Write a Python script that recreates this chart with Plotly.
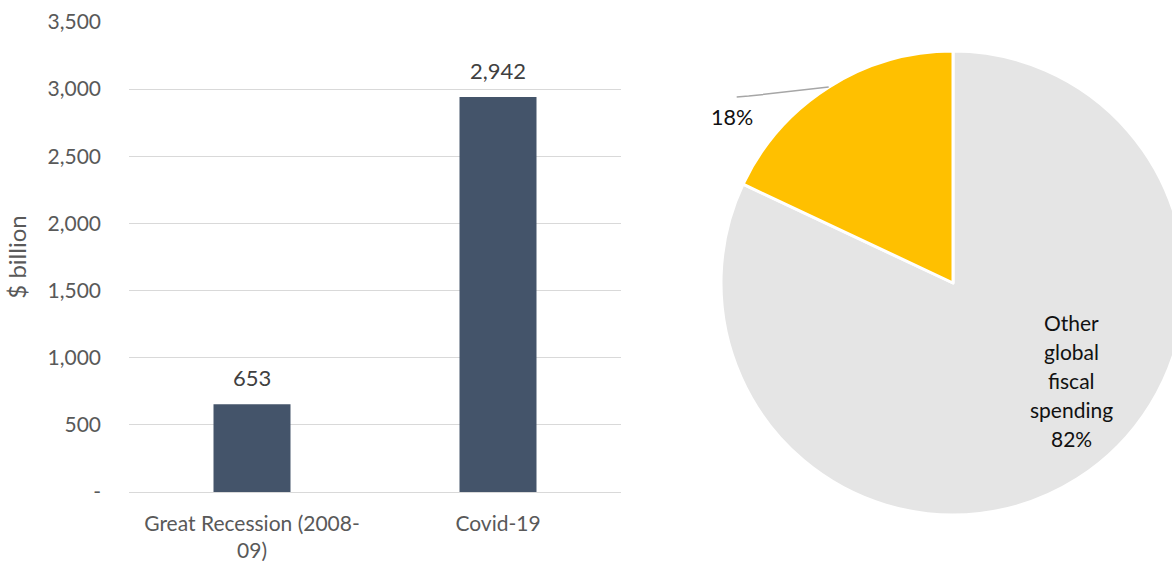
import math
import plotly.graph_objects as go

# ---- data -------------------------------------------------------------
episodes = ["Great Recession (2008-<br>09)", "Covid-19"]
spending_bn = [653, 2942]

y_tickvals = [0, 500, 1000, 1500, 2000, 2500, 3000, 3500]
y_ticktext = ["-", "500", "1,000", "1,500", "2,000", "2,500", "3,000", "3,500"]

# pie slices, drawn counter-clockwise so the last slice ends at 12 o'clock
share_labels = ["Other global fiscal spending", "Fiscal support"]
share_values = [82, 18]
share_colors = ["#E5E5E5", "#FFC000"]

# ---- canvas geometry ---------------------------------------------------
W, H = 1185, 561
FONT = "Lato"
GREY_TXT = "#595959"

fig = go.Figure()

fig.add_trace(go.Bar(
    x=episodes, y=spending_bn,
    marker=dict(color="#44546A", line=dict(width=0)),
    showlegend=False, hoverinfo="x+y",
    xaxis="x", yaxis="y",
))

# value labels above the bars
for cat, v in zip(episodes, spending_bn):
    fig.add_annotation(x=cat, y=v, xref="x", yref="y",
                       text=f"{v:,}", showarrow=False,
                       xanchor="center", yanchor="bottom", yshift=11,
                       font=dict(family=FONT, size=22, color="#404040"))

# pie: domain in paper fractions
pie_x0, pie_x1 = 721 / W, 1185 / W
pie_y0, pie_y1 = (H - 515) / H, (H - 51) / H
fig.add_trace(go.Pie(
    labels=share_labels,
    values=share_values,
    marker=dict(colors=share_colors, line=dict(color="white", width=3)),
    sort=False, direction="counterclockwise", rotation=0,
    textinfo="none", hoverinfo="label+percent",
    showlegend=False, automargin=False,
    domain=dict(x=[pie_x0, pie_x1], y=[pie_y0, pie_y1]),
))

# ---- pie labels, placed from the slice angles ----------------------------
cx = (pie_x0 + pie_x1) / 2 * W
cy = H - (pie_y0 + pie_y1) / 2 * H
R = min((pie_x1 - pie_x0) * W, (pie_y1 - pie_y0) * H) / 2
total = sum(share_values)


def to_paper(px, py):
    return px / W, (H - py) / H


# small slice sits just left of 12 o'clock: its mid angle
mid_small = share_values[1] / total * 360 / 2
rim_x = cx - math.sin(math.radians(mid_small)) * R
rim_y = cy - math.cos(math.radians(mid_small)) * R
elbow_x, elbow_y = rim_x - 80, rim_y + 9
end_x, end_y = rim_x - 92, rim_y + 10
ex0, ey0 = to_paper(rim_x, rim_y)
ex1, ey1 = to_paper(elbow_x, elbow_y)
ex2, ey2 = to_paper(end_x, end_y)
fig.add_shape(type="path", xref="paper", yref="paper",
              path=f"M {ex0},{ey0} L {ex1},{ey1} L {ex2},{ey2}",
              line=dict(color="#A6A6A6", width=1.5))
lx, ly = to_paper(end_x - 5, end_y + 20)
fig.add_annotation(xref="paper", yref="paper", x=lx, y=ly,
                   text=f"{share_values[1]}%", showarrow=False,
                   xanchor="center", yanchor="middle",
                   font=dict(family=FONT, size=21.5, color="#111111"))

# large slice label: stacked words
big_lines = share_labels[0].split(" ") + [f"{share_values[0]}%"]
gx, gy = cx + 118, cy + 97
step = 29
for i, word in enumerate(big_lines):
    py = gy + (i - (len(big_lines) - 1) / 2) * step
    ax_, ay_ = to_paper(gx, py)
    fig.add_annotation(xref="paper", yref="paper", x=ax_, y=ay_,
                       text=word, showarrow=False,
                       xanchor="center", yanchor="middle",
                       font=dict(family=FONT, size=21, color="#111111"))

# ---- layout --------------------------------------------------------------
fig.update_layout(
    width=W, height=H,
    margin=dict(l=0, r=0, t=0, b=0, autoexpand=False),
    paper_bgcolor="white", plot_bgcolor="white",
    bargap=0.687,
    font=dict(family=FONT, color=GREY_TXT),
    xaxis=dict(
        domain=[129 / W, 621 / W], automargin=False,
        showgrid=False, showline=False, zeroline=False,
        ticks="", ticklabelstandoff=17,
        tickfont=dict(family=FONT, size=21, color=GREY_TXT),
        fixedrange=True,
    ),
    yaxis=dict(
        domain=[(H - 492) / H, (H - 22) / H], automargin=False,
        range=[0, 3500],
        tickvals=y_tickvals, ticktext=y_ticktext,
        showgrid=True, gridcolor="#D9D9D9", gridwidth=1,
        zeroline=True, zerolinecolor="#D9D9D9", zerolinewidth=1,
        showline=False, ticks="", ticklabelstandoff=27,
        tickfont=dict(family=FONT, size=21, color=GREY_TXT),
        title=dict(text="$ billion", standoff=14,
                   font=dict(family=FONT, size=24, color=GREY_TXT)),
        fixedrange=True,
    ),
)

fig.write_html(
    "out.html",
    post_script=(
        "document.documentElement.style.overflow='hidden';"
        "document.body.style.overflow='hidden';"
        "document.body.style.margin='0';"
    ),
)
